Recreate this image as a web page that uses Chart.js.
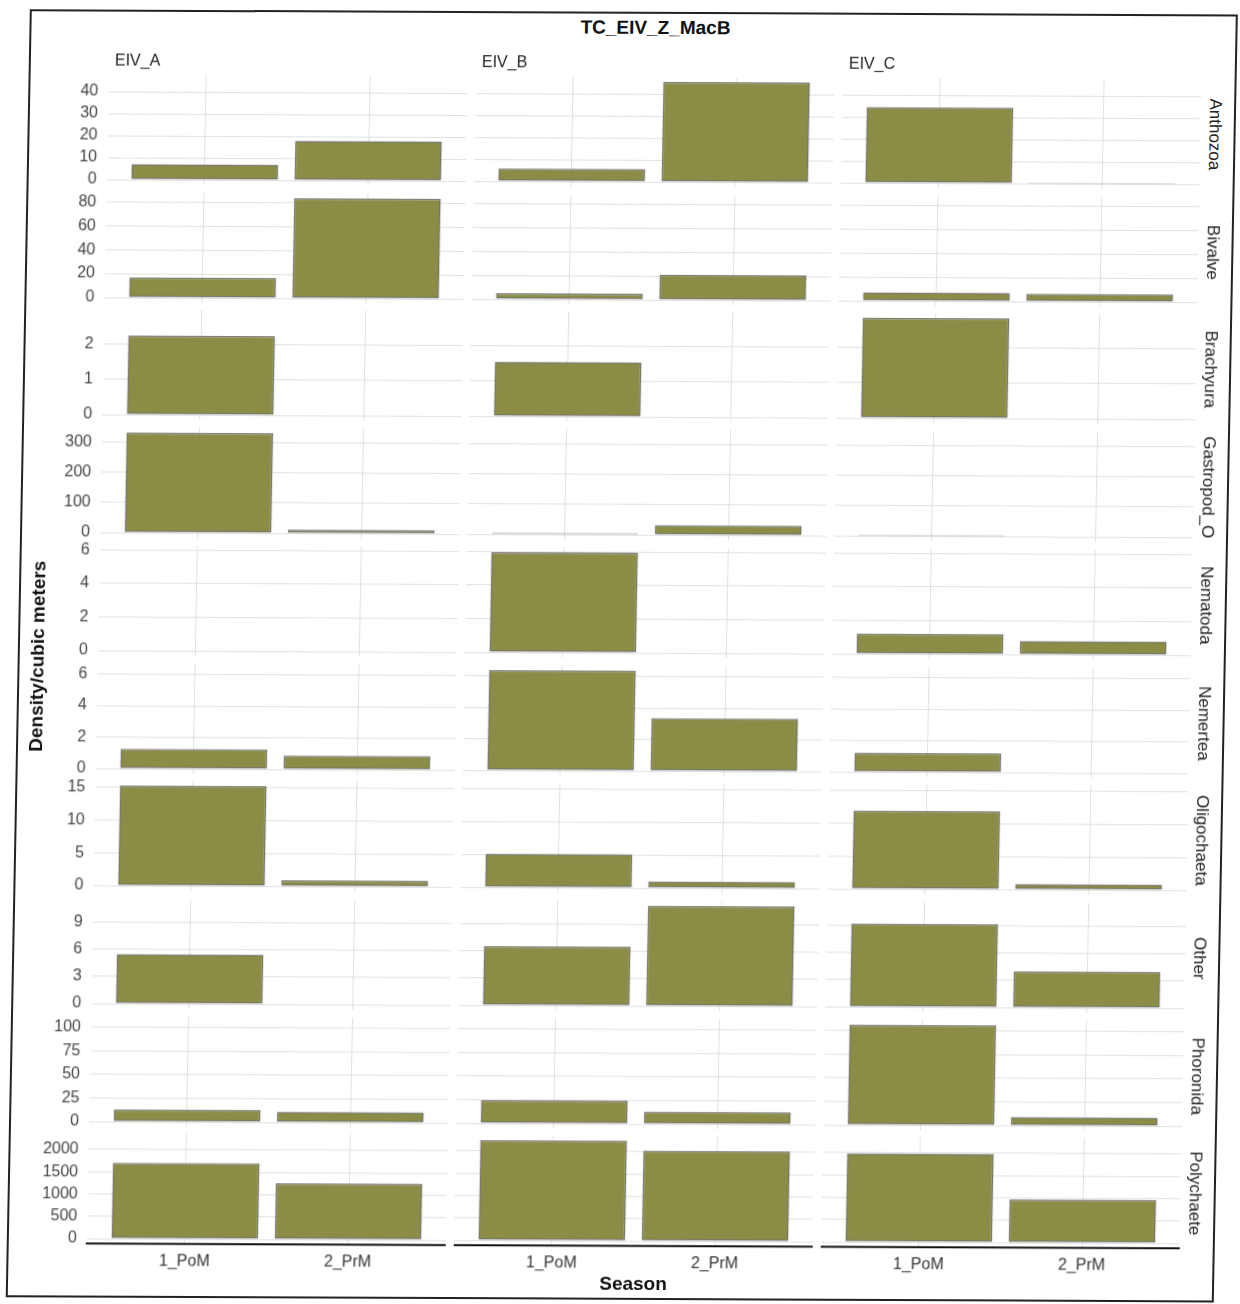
<!DOCTYPE html>
<html>
<head>
<meta charset="utf-8">
<title>TC_EIV_Z_MacB</title>
<script src="https://cdn.jsdelivr.net/npm/chart.js@4/dist/chart.umd.min.js"></script>
<style>
  body { margin: 0; background: #fff; font-family: "Liberation Sans", Arial, sans-serif; }
  #page {
    position: relative; width: 1240px; height: 1304px; overflow: visible;
    transform-origin: 0 0; transform: matrix(1, 0.0044, -0.0187, 1, 0, 0);
  }
  .frame { position: absolute; left: 30px; top: 9px; width: 1204px; height: 1284px; border: 2px solid #222; }
  .panel { position: absolute; }
  .panel canvas { display: block; }
  .txt { position: absolute; white-space: nowrap; color: #222; }
  .title { font-weight: bold; font-size: 19px; color: #111; transform: translate(-50%, -50%); }
  .strip-top { font-size: 16px; transform: translateY(-50%); }
  .strip-right { font-size: 17px; transform: translate(-50%, -50%) rotate(90deg); }
  .ytitle { font-weight: bold; font-size: 19px; color: #111; transform: translate(-50%, -50%) rotate(-90deg); }
</style>
</head>
<body>
<div id="page">
  <div class="frame"></div>
</div>
<script>
// facets
const sites = ['EIV_A', 'EIV_B', 'EIV_C'];
const seasons = ['1_PoM', '2_PrM'];
const taxa = ['Anthozoa', 'Bivalve', 'Brachyura', 'Gastropod_O', 'Nematoda',
              'Nemertea', 'Oligochaeta', 'Other', 'Phoronida', 'Polychaete'];

// density/cubic meters, one value per taxon (same order as taxa)
const eivA_PoM = [7, 17, 2.25, 331, 0, 1.25, 15.2, 5.45, 13, 1700];
const eivA_PrM = [18, 83.5, 0, 12, 0, 0.88, 0.9, 0, 11, 1255];
const eivB_PoM = [5.8, 5, 1.55, 5, 5.95, 6.35, 5.1, 6.5, 24.5, 2245];
const eivB_PrM = [45.5, 21, 0, 32, 0, 3.35, 1, 11, 13, 2025];
const eivC_PoM = [34.5, 7, 2.85, 4, 1.2, 1.2, 11.9, 9.15, 106, 1985];
const eivC_PrM = [0.5, 6.5, 0, 0, 0.8, 0, 0.85, 4, 9, 965];

// y breaks for each taxon row
const yTicks = [
  [0, 10, 20, 30, 40],
  [0, 20, 40, 60, 80],
  [0, 1, 2],
  [0, 100, 200, 300],
  [0, 2, 4, 6],
  [0, 2, 4, 6],
  [0, 5, 10, 15],
  [0, 3, 6, 9],
  [0, 25, 50, 75, 100],
  [0, 500, 1000, 1500, 2000]
];

const siteData = [[eivA_PoM, eivA_PrM], [eivB_PoM, eivB_PrM], [eivC_PoM, eivC_PrM]];

const PANEL_W = 359, PANEL_H = 110, ROW_STEP = 117.7, TOP0 = 74;
const colLeft = [110, 477, 844];
const AXIS_W = 70, PAD = 10, XLAB_H = 30;
const BAR_FILL = 'rgb(139,140,69)', BAR_EDGE = '#76766c', GRID = '#e0e0e0';
const TICK_FONT = { family: '"Liberation Sans", Arial, sans-serif', size: 16 };

const page = document.getElementById('page');
const rowTop = r => Math.round(TOP0 + r * ROW_STEP);

function addText(cls, text, x, y) {
  const d = document.createElement('div');
  d.className = 'txt ' + cls;
  d.textContent = text;
  d.style.left = x + 'px';
  d.style.top = y + 'px';
  page.appendChild(d);
}

function addPanel(r, c) {
  const first = c === 0;
  const last = r === taxa.length - 1;
  const axisW = first ? AXIS_W : 0;
  const w = PANEL_W + axisW;
  const h = PANEL_H + 2 * PAD + (last ? XLAB_H : 0);

  const box = document.createElement('div');
  box.className = 'panel';
  box.style.left = (colLeft[c] - axisW) + 'px';
  box.style.top = (rowTop(r) - PAD) + 'px';
  const cv = document.createElement('canvas');
  cv.width = w;
  cv.height = h;
  box.appendChild(cv);
  page.appendChild(box);

  const rowMax = Math.max(...siteData.flatMap(s => [s[0][r], s[1][r]]));
  const pts = seasons.map((s, i) => ({ x: i + 1, y: siteData[c][i][r] }));

  new Chart(cv, {
    type: 'bar',
    data: {
      datasets: [{
        data: pts,
        backgroundColor: BAR_FILL,
        borderColor: BAR_EDGE,
        borderWidth: 1.5,
        borderSkipped: false,
        barPercentage: 0.9,
        categoryPercentage: 1
      }]
    },
    options: {
      responsive: false,
      animation: false,
      devicePixelRatio: 1,
      layout: { padding: { top: PAD, bottom: PAD, left: 0, right: 0 } },
      plugins: { legend: { display: false }, tooltip: { enabled: false } },
      scales: {
        x: {
          type: 'linear',
          min: 0.4,
          max: 2.6,
          offset: false,
          grid: { color: GRID, drawTicks: false, offset: false },
          border: { display: last, color: '#111', width: 2 },
          ticks: {
            display: last,
            padding: 8,
            color: '#333',
            font: TICK_FONT,
            maxRotation: 0,
            callback: v => seasons[v - 1]
          },
          afterBuildTicks: s => { s.ticks = seasons.map((_, i) => ({ value: i + 1 })); },
          afterFit: s => { s.height = last ? XLAB_H : 0; s.paddingLeft = 0; s.paddingRight = 0; }
        },
        y: {
          min: -0.05 * rowMax,
          max: 1.05 * rowMax,
          grid: { color: GRID, drawTicks: false },
          border: { display: false },
          ticks: { display: first, padding: 10, color: '#444', font: TICK_FONT, callback: v => String(v) },
          afterBuildTicks: s => { s.ticks = yTicks[r].map(v => ({ value: v })); },
          afterFit: s => { s.width = axisW; s.paddingTop = 0; s.paddingBottom = 0; }
        }
      }
    }
  });
}

taxa.forEach((t, r) => {
  sites.forEach((s, c) => addPanel(r, c));
  addText('strip-right', t, 1217, rowTop(r) + PANEL_H / 2);
});

sites.forEach((s, c) => addText('strip-top', s, colLeft[c] + 6, 60));

addText('title', 'TC_EIV_Z_MacB', 656, 25);
addText('title', 'Season', 657, 1281);
addText('ytitle', 'Density/cubic meters', 50, 656);
</script>
</body>
</html>
